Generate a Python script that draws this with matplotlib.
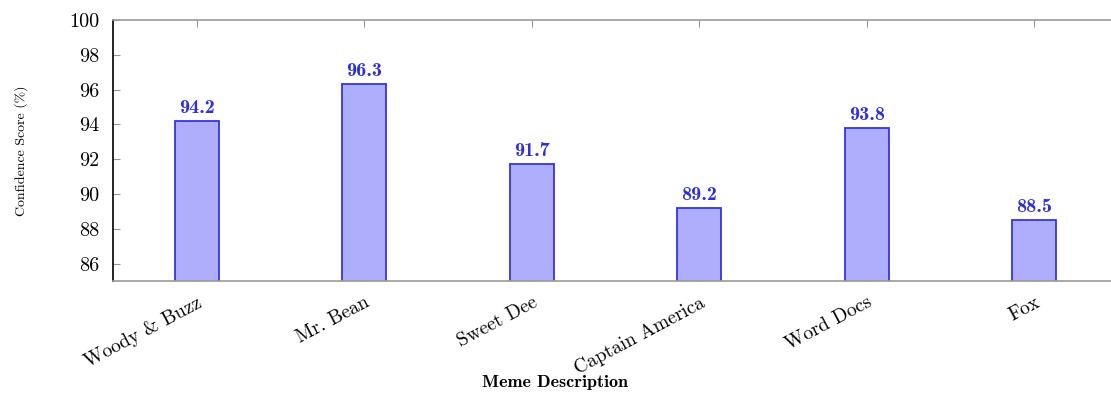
import matplotlib
matplotlib.use("Agg")
import matplotlib.pyplot as plt

memes = ["Woody & Buzz", "Mr. Bean", "Sweet Dee", "Captain America", "Word Docs", "Fox"]
scores = [94.2, 96.3, 91.7, 89.2, 93.8, 88.5]
yticks = [86, 88, 90, 92, 94, 96, 98, 100]

plt.rcParams["font.family"] = ["cmr10", "DejaVu Serif"]
plt.rcParams["axes.formatter.use_mathtext"] = True

fig = plt.figure(figsize=(11.11, 3.96), dpi=100)
ax = fig.add_axes([113 / 1111, 1 - 281 / 396, 1005 / 1111, 261 / 396])

x = list(range(len(memes)))
bars = ax.bar(x, scores, width=0.26, color="#aeaefd", edgecolor="#3535e0", linewidth=1.3, zorder=2)

for xi, s in zip(x, scores):
    ax.annotate(f"{s:.1f}", (xi, s), xytext=(0, 3), textcoords="offset points",
                ha="center", va="bottom", color="#3030d8", fontsize=14.5, family="cmb10")

ax.set_xlim(-0.5, 5.5)
ax.set_ylim(85, 100)
ax.set_yticks(yticks)
ax.set_yticklabels([str(t) for t in yticks], fontsize=14.5)
ax.set_xticks(x)
ax.set_xticklabels(memes, rotation=28, ha="right", rotation_mode="anchor", fontsize=14)

ax.tick_params(axis="both", direction="in", length=5, width=0.8, color="#999999",
               top=True, right=True, pad=10)
ax.tick_params(axis="x", pad=9)

for side in ["top", "bottom", "right"]:
    ax.spines[side].set_color("#999999")
    ax.spines[side].set_linewidth(1.2)
ax.spines["left"].set_color("black")
ax.spines["left"].set_linewidth(1.2)

ax.set_ylabel("Confidence Score (%)", fontsize=10)
ax.yaxis.set_label_coords(-0.085, 0.5)
ax.set_xlabel("Meme Description", fontsize=13, family="cmb10")
ax.xaxis.set_label_coords(0.44, -0.36)

fig.savefig("out.png", dpi=100)
